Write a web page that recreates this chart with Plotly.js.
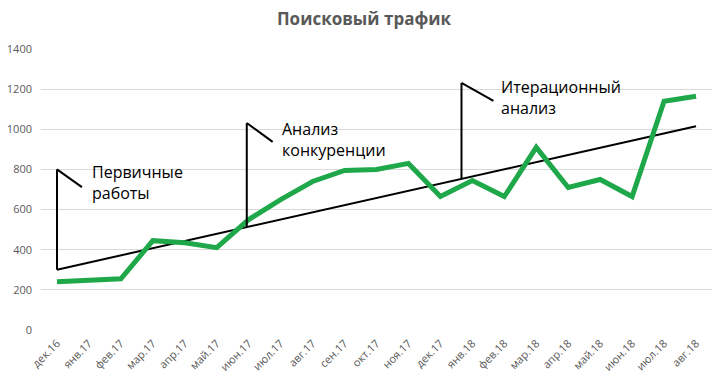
<!DOCTYPE html>
<html><head><meta charset="utf-8">
<script src="https://cdn.plot.ly/plotly-3.0.1.min.js"></script>
<style>html,body{margin:0;padding:0;background:#fff}#chart{width:728px;height:382px}</style>
</head><body><div id="chart"></div>
<script>
const months = ["дек.16","янв.17","фев.17","мар.17","апр.17","май.17","июн.17","июл.17","авг.17","сен.17","окт.17","ноя.17","дек.17","янв.18","фев.18","мар.18","апр.18","май.18","июн.18","июл.18","авг.18"];
const traffic = [240,245,255,445,435,410,550,650,740,795,800,830,665,745,665,910,710,750,665,1140,1165];
const yTicks = [0,200,400,600,800,1000,1200,1400];
const phaseLabels = ["Первичные<br>работы","Анализ<br>конкуренции","Итерационный<br>анализ"];

// linear trend (least squares) computed from the data
const n = traffic.length;
const idx = traffic.map((_, i) => i);
const mx = idx.reduce((a,b)=>a+b,0)/n;
const my = traffic.reduce((a,b)=>a+b,0)/n;
let sxy=0, sxx=0;
idx.forEach((x,i)=>{sxy+=(x-mx)*(traffic[i]-my); sxx+=(x-mx)*(x-mx);});
const slope = sxy/sxx, icpt = my - slope*mx;
const trend = idx.map(x => icpt + slope*x);
const trendAt = x => icpt + slope*x;

// flags: [x of pole, top y, x of end of diagonal, y of end, label x, label y]
const flags = [
  [0, 800, 0.78, 712, 1.02, 735],
  [5.94, 1031, 6.75, 937, 6.97, 948],
  [12.66, 1231, 13.66, 1141, 13.82, 1158]
];
const shapes = [], annotations = [];
flags.forEach((f, k) => {
  shapes.push({type:'line', xref:'x', yref:'y', x0:f[0], x1:f[0], y0:trendAt(f[0]), y1:f[1], line:{color:'#000', width:2}});
  shapes.push({type:'line', xref:'x', yref:'y', x0:f[0], x1:f[2], y0:f[1], y1:f[3], line:{color:'#000', width:2}});
  annotations.push({xref:'x', yref:'y', x:f[4], y:f[5], text:phaseLabels[k], showarrow:false, xanchor:'left', yanchor:'middle', align:'left', font:{family:'Open Sans, sans-serif', size:16, color:'#000'}});
});

Plotly.newPlot('chart', [
  {x: months, y: trend, type:'scatter', mode:'lines', line:{color:'#000', width:2}, hoverinfo:'skip'},
  {x: months, y: traffic, type:'scatter', mode:'lines', line:{color:'#1fa84a', width:5}}
], {
  width:728, height:382,
  margin:{l:41, r:16, t:49, b:52},
  showlegend:false,
  paper_bgcolor:'#fff', plot_bgcolor:'#fff',
  title:{text:'<b>Поисковый трафик</b>', x:0.5, xanchor:'center', y:0.95, yanchor:'middle', font:{family:'Open Sans, sans-serif', size:17, color:'#595959'}},
  xaxis:{type:'category', tickangle:-45, tickfont:{family:'Open Sans, sans-serif', size:11, color:'#595959'}, showgrid:false, showline:false, zeroline:false, ticks:'', range:[-0.5, 20.5], ticklabelstandoff:4},
  yaxis:{range:[0,1400], tickvals:yTicks, ticktext:yTicks.map(String), tickfont:{family:'Open Sans, sans-serif', size:11, color:'#595959'}, gridcolor:'#d9d9d9', gridwidth:1, zeroline:false, showline:false, ticks:'', ticklabelstandoff:8},
  shapes: shapes,
  annotations: annotations
}, {staticPlot:true});
</script></body></html>
